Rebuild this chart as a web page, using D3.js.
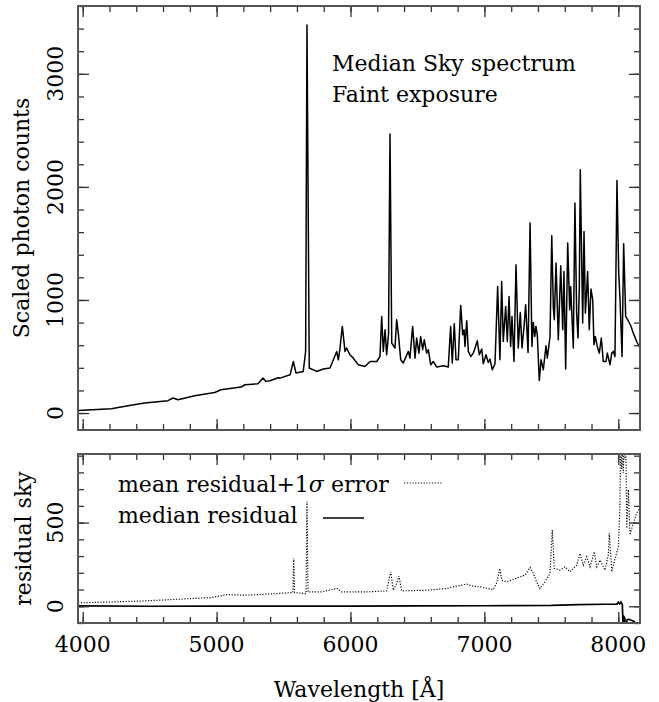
<!DOCTYPE html>
<html lang="en">
<head>
  <meta charset="UTF-8">
  <title></title>
  <style>
    html, body {
      margin: 0;
      padding: 0;
      overflow: hidden;
      background: #fff;
    }
    svg {
      display: block;
      background: #fff;
    }
    text {
      font-family: "DejaVu Serif", serif;
      fill: #000;
    }
  </style>
</head>
<body>
  <svg width="659" height="702"></svg>
</body>
<script src="https://d3js.org/d3.v7.min.js"></script>
<script type="text/javascript">
  // median sky spectrum (top panel)
  const wave = [3965,4214,4338,4463,4637,4674,4712,4836,4986,5033,
    5182,5212,5309,5347,5369,5399,5459,5474,5549,5573,
    5593,5647,5665,5675,5692,5747,5797,5847,5872,5897,
    5909,5921,5939,5959,5971,5996,6021,6058,6108,6146,
    6196,6220,6233,6245,6258,6270,6284,6295,6308,6332,
    6345,6357,6375,6394,6432,6444,6464,6482,6494,6511,
    6524,6539,6551,6569,6581,6599,6618,6644,6693,6730,
    6748,6760,6775,6788,6805,6823,6838,6848,6855,6868,
    6880,6898,6917,6930,6947,6962,6980,6992,7012,7029,
    7042,7059,7079,7099,7116,7129,7141,7159,7171,7184,
    7196,7206,7221,7236,7253,7268,7281,7296,7308,7326,
    7341,7355,7365,7376,7385,7395,7410,7423,7440,7460,
    7470,7490,7503,7515,7522,7535,7552,7570,7585,7594,
    7607,7622,7637,7644,7656,7664,7676,7689,7699,7709,
    7716,7734,7744,7754,7764,7771,7783,7796,7809,7818,
    7828,7843,7858,7873,7888,7908,7918,7938,7951,7963,
    7975,7990,8003,8013,8028,8040,8055,8070,8093,8112,
    8137,8162]
  const counts = [23,38,65,88,109,133,118,153,182,206,
    230,250,259,309,280,285,312,309,339,456,
    354,368,545,3433,398,368,389,398,471,545,
    471,566,766,545,575,515,486,427,412,456,
    456,500,854,545,736,515,700,2469,619,575,
    825,707,471,442,545,486,766,486,663,530,
    677,560,648,530,560,427,456,407,418,407,
    766,442,790,471,471,952,692,736,589,816,
    545,500,530,575,639,515,566,436,515,447,
    477,383,436,1120,471,1164,633,943,633,1031,
    589,854,456,1312,575,890,575,766,958,536,
    1680,589,801,677,766,692,288,471,383,595,
    486,677,1567,928,825,1326,648,1302,736,1252,
    389,1503,913,1120,796,575,1857,884,663,1120,
    2151,796,1606,884,1090,1252,736,1096,1002,604,
    677,589,530,663,456,456,530,427,530,545,
    500,2057,1238,1002,500,1497,854,825,772,707,
    633,575]

  // mean residual + 1 sigma error (bottom panel, dotted)
  const sigWave = [3965,4463,4958,5085,5210,5459,5558,5570,5576,5582,
    5658,5668,5675,5683,5782,5901,5931,6131,6270,6300,
    6320,6345,6362,6382,6569,6718,6768,6868,6917,6967,
    7066,7092,7116,7129,7166,7216,7266,7303,7341,7365,
    7390,7415,7452,7490,7507,7522,7565,7602,7639,7689,
    7714,7738,7764,7789,7821,7839,7863,7901,7925,7933,
    7951,7976,8001,8012,8018,8025,8031,8037,8044,8050,
    8056,8063,8075,8087,8112,8137,8162]
  const sigRes = [20,32,52,70,66,76,82,82,286,82,
    76,76,626,86,86,106,86,86,92,206,
    96,136,180,92,96,106,116,132,120,116,
    100,140,226,156,146,160,176,186,232,196,
    146,106,146,196,456,226,216,236,206,246,
    316,246,296,236,326,236,276,216,306,436,
    206,286,356,600,1000,820,1000,796,1000,880,
    1000,466,696,426,496,556,586]

  // median residual (bottom panel, solid)
  const medWave = [3965,4500,5000,5500,6000,6500,7000,7500,7700,7900,
    7990,8000,8010,8020,8030,8036,8040,8048,8055,8066,
    8080,8100,8118,8135,8162]
  const medRes = [2,0,1,1,1,2,3,5,10,12,
    13,24,14,26,10,-130,-60,-70,-130,-80,
    -78,-85,-90,-130,-130]

  const xMajor = [4000, 5000, 6000, 7000, 8000]
  const xMinor = d3.range(4000, 8200, 200)
  const topMajor = [0, 1000, 2000, 3000]
  const topMinor = d3.range(0, 3700, 200)
  const botMajor = [0, 500]
  const botMinor = d3.range(-100, 1000, 100)

  const svg = d3.select('svg')

  const L = 78, R = 640
  const top1 = 6, bot1 = 430
  const top2 = 454, bot2 = 623

  const x = d3.scaleLinear().domain([3965, 8162]).range([L, R])
  const y1 = d3.scaleLinear().domain([-150, 3600]).range([bot1, top1])
  const y2 = d3.scaleLinear().domain([-100, 910]).range([bot2, top2])

  const defs = svg.append('defs')
  defs.append('clipPath').attr('id', 'clip1')
    .append('rect').attr('x', L).attr('y', top1).attr('width', R - L).attr('height', bot1 - top1)
  defs.append('clipPath').attr('id', 'clip2')
    .append('rect').attr('x', L).attr('y', top2).attr('width', R - L).attr('height', bot2 - top2)

  // top panel spectrum
  svg.append('path')
    .datum(wave.map((w, i) => [w, counts[i]]))
    .attr('clip-path', 'url(#clip1)')
    .attr('fill', 'none')
    .attr('stroke', '#000')
    .attr('stroke-width', 1.5)
    .attr('stroke-linejoin', 'round')
    .attr('d', d3.line().x(d => x(d[0])).y(d => y1(d[1])))

  // bottom panel residuals
  svg.append('path')
    .datum(sigWave.map((w, i) => [w, sigRes[i]]))
    .attr('clip-path', 'url(#clip2)')
    .attr('fill', 'none')
    .attr('stroke', '#111')
    .attr('stroke-width', 1.2)
    .attr('stroke-dasharray', '1.2,1.6')
    .attr('d', d3.line().x(d => x(d[0])).y(d => y2(d[1])))

  svg.append('path')
    .datum(medWave.map((w, i) => [w, medRes[i]]))
    .attr('clip-path', 'url(#clip2)')
    .attr('fill', 'none')
    .attr('stroke', '#000')
    .attr('stroke-width', 1.7)
    .attr('d', d3.line().x(d => x(d[0])).y(d => y2(d[1])))

  // axes: inward ticks on all four sides, PGPLOT style
  function ticks(axis, vals, size, tx, ty) {
    const g = svg.append('g')
      .attr('transform', `translate(${tx},${ty})`)
      .call(axis.tickValues(vals).tickSize(-size).tickFormat(''))
    g.select('.domain').remove()
    g.selectAll('line').attr('stroke', '#333').attr('stroke-width', 1.3)
    return g
  }

  function frame(yScale, yTop, yBot, major, minor) {
    const inside = minor.filter(v => yScale(v) <= yBot && yScale(v) >= yTop)
    ticks(d3.axisBottom(x), xMinor, 6, 0, yBot)
    ticks(d3.axisBottom(x), xMajor, 11, 0, yBot)
    ticks(d3.axisTop(x), xMinor, 6, 0, yTop)
    ticks(d3.axisTop(x), xMajor, 11, 0, yTop)
    ticks(d3.axisLeft(yScale), inside, 6, L, 0)
    ticks(d3.axisLeft(yScale), major, 11, L, 0)
    ticks(d3.axisRight(yScale), inside, 6, R, 0)
    ticks(d3.axisRight(yScale), major, 11, R, 0)
    svg.append('rect')
      .attr('x', L).attr('y', yTop)
      .attr('width', R - L).attr('height', yBot - yTop)
      .attr('fill', 'none')
      .attr('stroke', '#555')
      .attr('stroke-width', 2)
    // rotated y tick labels
    svg.append('g')
      .selectAll('text')
      .data(major)
      .enter().append('text')
        .attr('transform', d => `translate(63,${yScale(d)}) rotate(-90)`)
        .attr('text-anchor', 'middle')
        .attr('font-size', 22)
        .text(d => d)
  }

  frame(y1, top1, bot1, topMajor, topMinor)
  frame(y2, top2, bot2, botMajor, botMinor)

  // x tick labels under bottom panel
  svg.append('g')
    .selectAll('text')
    .data(xMajor)
    .enter().append('text')
      .attr('x', d => x(d))
      .attr('y', 652)
      .attr('text-anchor', 'middle')
      .attr('font-size', 22)
      .text(d => d)

  // axis titles
  svg.append('text')
    .attr('transform', `translate(29,${(top1 + bot1) / 2}) rotate(-90)`)
    .attr('text-anchor', 'middle')
    .attr('font-size', 22)
    .text('Scaled photon counts')

  svg.append('text')
    .attr('transform', `translate(31,${(top2 + bot2) / 2}) rotate(-90)`)
    .attr('text-anchor', 'middle')
    .attr('font-size', 22)
    .text('residual sky')

  svg.append('text')
    .attr('x', (L + R) / 2)
    .attr('y', 697)
    .attr('text-anchor', 'middle')
    .attr('font-size', 22)
    .text('Wavelength [Å]')

  // annotations
  svg.append('text').attr('x', 332).attr('y', 71).attr('font-size', 22).text('Median Sky spectrum')
  svg.append('text').attr('x', 332).attr('y', 102).attr('font-size', 22).text('Faint exposure')

  // legend
  const leg = svg.append('g')
  leg.append('text').attr('x', 118).attr('y', 492).attr('font-size', 22)
    .text('mean residual+1')
    .append('tspan').attr('font-style', 'italic').text('σ')
  leg.select('text').append('tspan').text(' error')
  leg.append('line')
    .attr('x1', 404).attr('x2', 443).attr('y1', 483).attr('y2', 483)
    .attr('stroke', '#111').attr('stroke-width', 1.2).attr('stroke-dasharray', '1.2,1.6')
  leg.append('text').attr('x', 118).attr('y', 523).attr('font-size', 22)
    .text('median residual')
  leg.append('line')
    .attr('x1', 323).attr('x2', 364).attr('y1', 518).attr('y2', 518)
    .attr('stroke', '#000').attr('stroke-width', 1.7)
</script>
</html>
